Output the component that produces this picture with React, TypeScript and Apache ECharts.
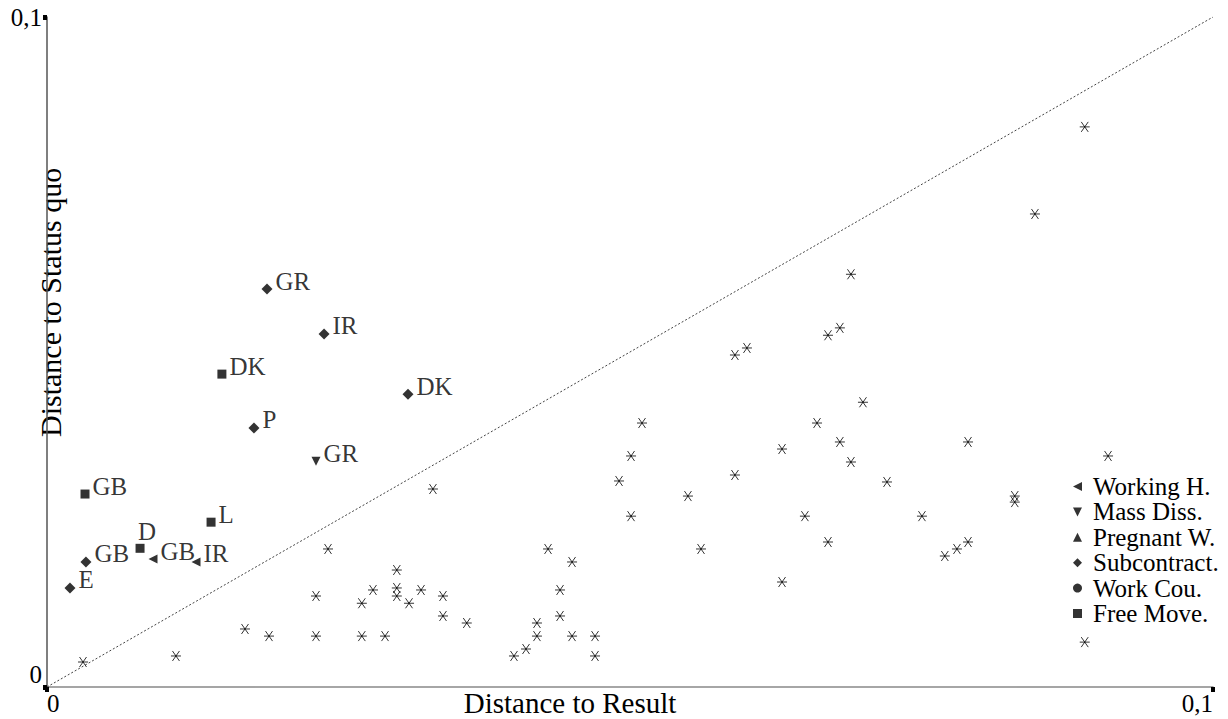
import React, { useEffect, useRef } from "react";
import * as echarts from "echarts";

const xAxisLabels = ["0", "0,1"];
const yAxisLabels = ["0", "0,1"];
const legendNames = ["Working H.", "Mass Diss.", "Pregnant W.", "Subcontract.", "Work Cou.", "Free Move."];

// [x, y, label]
const workingHours: [number, number, string][] = [
  [0.00909, 0.0191, "GB"],
  [0.01278, 0.01866, "IR"],
];
const massDiss: [number, number, string][] = [[0.02307, 0.0337, "GR"]];
const pregnantW: [number, number, string][] = [];
const subcontract: [number, number, string][] = [
  [0.01887, 0.0594, "GR"],
  [0.02376, 0.0527, "IR"],
  [0.03096, 0.0437, "DK"],
  [0.01775, 0.03866, "P"],
  [0.00334, 0.01866, "GB"],
  [0.00197, 0.01478, "E"],
];
const workCou: [number, number, string][] = [];
const freeMove: [number, number, string][] = [
  [0.015, 0.0467, "DK"],
  [0.00326, 0.0288, "GB"],
  [0.01407, 0.0246, "L"],
  [0.00798, 0.0207, "D"],
];
const others: [number, number][] = [
  [0.00309, 0.00373], [0.01106, 0.00463], [0.01698, 0.00866], [0.01904, 0.0076],
  [0.02307, 0.0076], [0.02307, 0.01358], [0.0241, 0.0206], [0.027, 0.0125],
  [0.027, 0.0076], [0.02796, 0.01448], [0.02899, 0.0076], [0.03, 0.01746],
  [0.03, 0.01478], [0.03, 0.01358], [0.03105, 0.0125], [0.03208, 0.01448],
  [0.0331, 0.02955], [0.03396, 0.01358], [0.03396, 0.0106], [0.036, 0.00955],
  [0.04005, 0.00463], [0.04108, 0.00567], [0.04202, 0.00955], [0.04202, 0.0076],
  [0.04297, 0.0206], [0.044, 0.01448], [0.044, 0.0106], [0.04503, 0.01866],
  [0.04503, 0.0076], [0.047, 0.0076], [0.047, 0.00463], [0.04906, 0.03075],
  [0.05009, 0.03448], [0.05009, 0.0255], [0.05103, 0.0394], [0.05497, 0.0285],
  [0.05609, 0.0206], [0.059, 0.03164], [0.059, 0.04955], [0.06003, 0.0506],
  [0.06304, 0.03552], [0.06304, 0.01567], [0.065, 0.0255], [0.06604, 0.0394],
  [0.06698, 0.0525], [0.06698, 0.02164], [0.068, 0.0536], [0.068, 0.03657],
  [0.06895, 0.0616], [0.06895, 0.03358], [0.06998, 0.0425], [0.07204, 0.0306],
  [0.07504, 0.0255], [0.077, 0.01955], [0.07804, 0.0206], [0.07899, 0.02164],
  [0.07899, 0.03657], [0.083, 0.0285], [0.083, 0.0276], [0.08473, 0.0706],
  [0.089, 0.0836], [0.089, 0.0067], [0.091, 0.03448],
];
const diagonal: [number, number][] = [[0, 0], [0.1, 0.1]];

const FONT = "'Liberation Serif', 'Times New Roman', serif";

const SYM_LEFT = "path://M0,5L10,0L10,10Z";
const SYM_DOWN = "path://M0,0L10,0L5,10Z";
const SYM_UP = "path://M0,10L10,10L5,0Z";
const SYM_AST = "path://M0,5L10,5M1.5,0.7L8.5,9.3M1.5,9.3L8.5,0.7";

function labelled(name: string, data: [number, number, string][], symbol: string, size: number) {
  return {
    name,
    type: "scatter",
    symbol,
    symbolSize: size,
    itemStyle: { color: "#000" },
    data: data.map((d) => ({
      value: [d[0], d[1]],
      name: d[2],
      label:
        d[2] === "D"
          ? { position: "top", distance: 0, offset: [7, 0] }
          : undefined,
    })),
    label: {
      show: true,
      formatter: "{b}",
      position: "right",
      distance: 3,
      offset: [0, -8],
      color: "#000",
      fontFamily: FONT,
      fontSize: 25,
    },
    z: 3,
  };
}

export default function App() {
  const ref = useRef<HTMLDivElement>(null);
  useEffect(() => {
    if (!ref.current) return;
    const chart = echarts.init(ref.current, undefined, { renderer: "svg" });
    chart.setOption({
      animation: false,
      backgroundColor: "#fff",
      grid: { left: 47, top: 17, right: 15, bottom: 32, containLabel: false, outerBoundsMode: "none" },
      xAxis: {
        type: "value",
        min: 0,
        max: 0.1,
        interval: 0.1,
        splitLine: { show: false },
        axisLine: { show: true, lineStyle: { color: "#888", width: 1.5 } },
        axisTick: { show: true, length: 5, lineStyle: { color: "#000", width: 4 } },
        axisLabel: {
          color: "#000",
          fontFamily: FONT,
          fontSize: 25,
          margin: 4,
          alignMinLabel: "left",
          alignMaxLabel: "right",
          formatter: (v: number) => (v === 0 ? xAxisLabels[0] : xAxisLabels[1]),
        },
        name: "Distance to Result",
        nameLocation: "middle",
        nameGap: 16,
        nameMoveOverlap: false,
        nameTextStyle: {
          color: "#000",
          fontFamily: FONT,
          fontSize: 29,
          padding: [0, 120, 0, 0],
          verticalAlign: "middle",
        },
      },
      yAxis: {
        type: "value",
        min: 0,
        max: 0.1,
        interval: 0.1,
        splitLine: { show: false },
        axisLine: { show: true, lineStyle: { color: "#555", width: 1.5 } },
        axisTick: { show: true, length: 4, lineStyle: { color: "#000", width: 5 } },
        axisLabel: {
          color: "#000",
          fontFamily: FONT,
          fontSize: 25,
          margin: 5,
          verticalAlignMinLabel: "bottom",
          formatter: (v: number) => (v === 0 ? yAxisLabels[0] : yAxisLabels[1]),
        },
      },
      legend: {
        data: legendNames,
        orient: "vertical",
        left: 1068,
        top: 469,
        itemWidth: 9,
        itemHeight: 9,
        itemGap: 0.4,
        textStyle: { color: "#000", fontFamily: FONT, fontSize: 25, lineHeight: 22, padding: [0, 0, 0, 6] },
        selectedMode: false,
      },
      graphic: [
        {
          type: "text",
          x: 50,
          y: 437,
          rotation: Math.PI / 2,
          style: {
            text: "Distance to Status quo",
            font: `30px ${FONT}`,
            fill: "#000",
            align: "left",
            verticalAlign: "middle",
          },
        },
      ],
      series: [
        {
          name: "diagonal",
          type: "line",
          data: diagonal,
          symbol: "none",
          lineStyle: { color: "#444", width: 1, type: [2, 2] },
          silent: true,
          z: 1,
        },
        {
          name: "other",
          type: "scatter",
          symbol: SYM_AST,
          symbolSize: 10,
          itemStyle: { color: "rgba(0,0,0,0)", borderColor: "#000", borderWidth: 1 },
          data: others,
          z: 2,
        },
        labelled("Working H.", workingHours, SYM_LEFT, 9),
        labelled("Mass Diss.", massDiss, SYM_DOWN, 9),
        labelled("Pregnant W.", pregnantW, SYM_UP, 9),
        labelled("Subcontract.", subcontract, "diamond", 11),
        labelled("Work Cou.", workCou, "circle", 12),
        labelled("Free Move.", freeMove, "rect", 9),
      ],
    });
    return () => chart.dispose();
  }, []);
  return <div ref={ref} style={{ position: "fixed", left: 0, top: 0, width: 1228, height: 719 }} />;
}
